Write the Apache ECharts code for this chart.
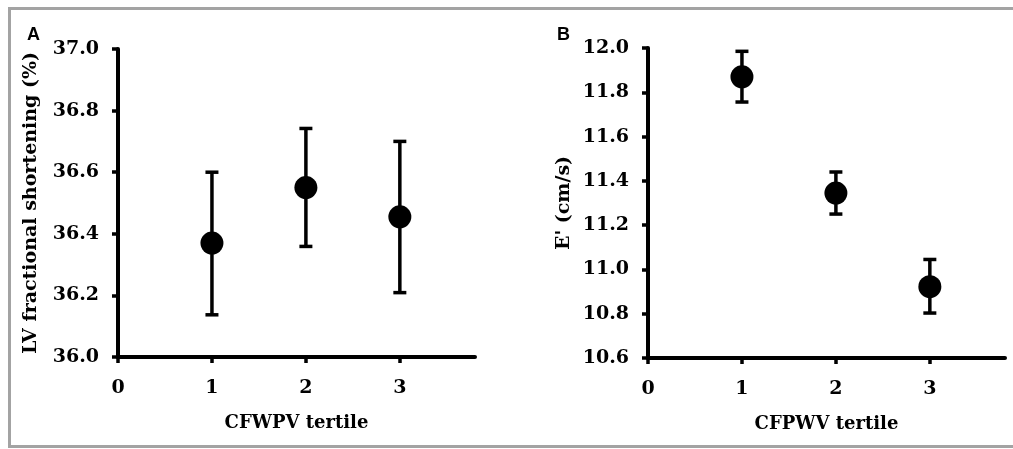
<!DOCTYPE html>
<html>
<head>
<meta charset="utf-8">
<script src="https://cdn.jsdelivr.net/npm/echarts@6/dist/echarts.min.js"></script>
<style>
html,body{margin:0;padding:0;background:#fff;}
#chart{width:1013px;height:449px;}
</style>
</head>
<body>
<div id="chart"></div>
<script>
// Panel A: LV fractional shortening by CFWPV tertile
const tertiles = [1, 2, 3];
const xTickValues = [0, 1, 2, 3];
const fsMean = [36.37, 36.55, 36.455];
const fsLow = [36.137, 36.359, 36.209];
const fsHigh = [36.600, 36.742, 36.700];
// Panel B: E' by CFPWV tertile
const eMean = [11.870, 11.345, 10.922];
const eLow = [11.756, 11.250, 10.803];
const eHigh = [11.985, 11.440, 11.045];

const FONT = 'DejaVu Serif';

function meanData(m){ return tertiles.map((t,i)=>[t, m[i]]); }
function errData(lo, hi){ return tertiles.map((t,i)=>[t, lo[i], hi[i]]); }

function errorRender(params, api){
  const x = api.value(0);
  const lo = api.coord([x, api.value(1)]);
  const hi = api.coord([x, api.value(2)]);
  const half = 6.5;
  const style = {stroke:'#000', lineWidth:3.5};
  return {
    type:'group',
    children:[
      {type:'line', shape:{x1:hi[0],y1:hi[1],x2:lo[0],y2:lo[1]}, style},
      {type:'line', shape:{x1:hi[0]-half,y1:hi[1],x2:hi[0]+half,y2:hi[1]}, style},
      {type:'line', shape:{x1:lo[0]-half,y1:lo[1],x2:lo[0]+half,y2:lo[1]}, style}
    ]
  };
}

function xAxis(idx, name){
  return {
    type:'value', gridIndex:idx, min:0, max:3.8, interval:1,
    name:name, nameLocation:'middle', nameGap:57,
    nameTextStyle:{fontFamily:FONT, fontWeight:'bold', fontSize:18, color:'#000'},
    axisLine:{show:true, onZero:false, lineStyle:{color:'#000', width:4}},
    axisTick:{show:true, length:6, lineStyle:{color:'#000', width:3.5}, customValues:xTickValues},
    axisLabel:{fontFamily:FONT, fontWeight:'bold', fontSize:19, color:'#000', margin:22, customValues:xTickValues},
    splitLine:{show:false}
  };
}
function yAxis(idx, name, min, max, gap){
  return {
    type:'value', gridIndex:idx, min:min, max:max, interval:0.2,
    name:name, nameLocation:'middle', nameGap:gap,
    nameTextStyle:{fontFamily:FONT, fontWeight:'bold', fontSize:19, color:'#000'},
    axisLine:{show:true, onZero:false, lineStyle:{color:'#000', width:4}},
    axisTick:{show:true, length:6, lineStyle:{color:'#000', width:3.5}},
    axisLabel:{fontFamily:FONT, fontWeight:'bold', fontSize:19, color:'#000', margin:19,
      formatter:v=>v.toFixed(1)},
    splitLine:{show:false}
  };
}

const chart = echarts.init(document.getElementById('chart'), null, {renderer:'canvas'});
chart.setOption({
  animation:false,
  backgroundColor:'#fff',
  graphic:[
    {type:'rect', shape:{x:9.5, y:8.5, width:1020, height:438}, style:{fill:'none', stroke:'#a3a3a3', lineWidth:3}, z:-1},
    {type:'text', left:27, top:26, style:{text:'A', font:'bold 18px "Liberation Sans"', fill:'#000'}},
    {type:'text', left:557, top:26, style:{text:'B', font:'bold 18px "Liberation Sans"', fill:'#000'}}
  ],
  grid:[
    {left:118, top:49, width:357, height:308},
    {left:648, top:48, width:357, height:310}
  ],
  xAxis:[xAxis(0,'CFWPV tertile'), xAxis(1,'CFPWV tertile')],
  yAxis:[yAxis(0,'LV fractional shortening (%)',36.0,37.0,77), yAxis(1,"E' (cm/s)",10.6,12.0,74)],
  series:[
    {type:'custom', xAxisIndex:0, yAxisIndex:0, renderItem:errorRender, data:errData(fsLow, fsHigh), z:1},
    {type:'scatter', xAxisIndex:0, yAxisIndex:0, symbol:'circle', symbolSize:23, itemStyle:{color:'#000', opacity:1}, data:meanData(fsMean), z:2},
    {type:'custom', xAxisIndex:1, yAxisIndex:1, renderItem:errorRender, data:errData(eLow, eHigh), z:1},
    {type:'scatter', xAxisIndex:1, yAxisIndex:1, symbol:'circle', symbolSize:23, itemStyle:{color:'#000', opacity:1}, data:meanData(eMean), z:2}
  ]
});
</script>
</body>
</html>
